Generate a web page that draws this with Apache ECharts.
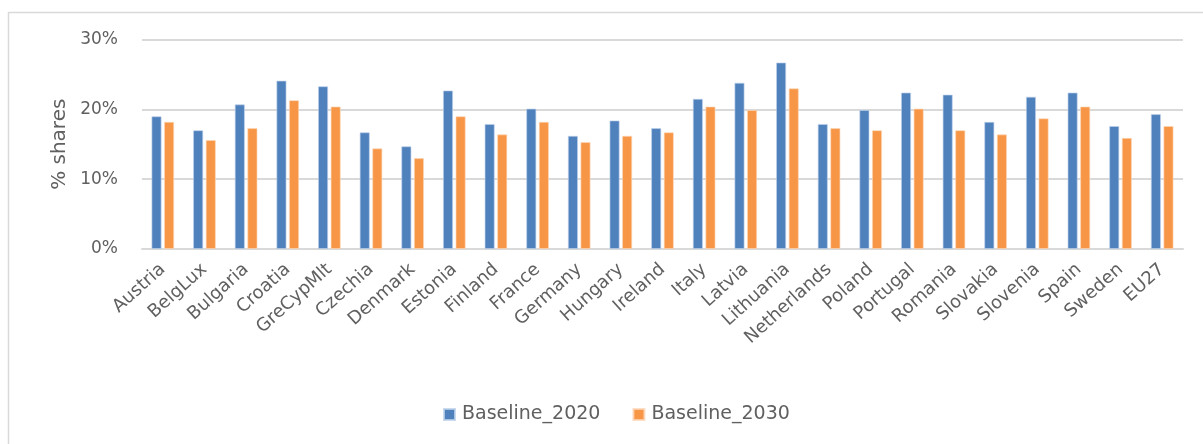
<!DOCTYPE html>
<html>
<head>
<meta charset="utf-8">
<script src="https://cdn.jsdelivr.net/npm/echarts@6/dist/echarts.min.js"></script>
<style>
html,body{margin:0;padding:0;background:#fff;}
#chart{width:1203px;height:444px;}
</style>
</head>
<body>
<div id="chart"></div>
<script>
const categories = ["Austria","BelgLux","Bulgaria","Croatia","GreCypMlt","Czechia","Denmark","Estonia","Finland","France","Germany","Hungary","Ireland","Italy","Latvia","Lithuania","Netherlands","Poland","Portugal","Romania","Slovakia","Slovenia","Spain","Sweden","EU27"];
const baseline2020 = [19.0,17.0,20.7,24.1,23.3,16.7,14.7,22.7,17.9,20.1,16.2,18.4,17.3,21.5,23.8,26.7,17.9,19.9,22.4,22.1,18.2,21.8,22.4,17.6,19.3];
const baseline2030 = [18.2,15.6,17.3,21.3,20.4,14.4,13.0,19.0,16.4,18.2,15.3,16.2,16.7,20.4,19.9,23.0,17.3,17.0,20.1,17.0,16.4,18.7,20.4,15.9,17.6];
const seriesNames = ["Baseline_2020","Baseline_2030"];
const yTicks = {min:0, max:30, interval:10};

const FONT = "DejaVu Sans";
const TXT = "#606060";
const chart = echarts.init(document.getElementById('chart'));
chart.setOption({
  animation:false,
  graphic:[{type:'rect', shape:{x:8.5,y:12.5,width:1300,height:500}, style:{fill:'none', stroke:'#d9d9d9', lineWidth:1.5}, silent:true}],
  grid:{left:142, right:20, top:39.5, bottom:195, containLabel:false},
  legend:{
    data:seriesNames, left:438, top:400, itemWidth:11, itemHeight:11, itemGap:32,
    icon:'rect',
    textStyle:{fontFamily:FONT, fontSize:19, color:TXT, padding:[0,0,0,2]}
  },
  xAxis:{
    type:'category', data:categories,
    axisLine:{lineStyle:{color:'#d9d9d9', width:2}},
    axisTick:{show:false},
    axisLabel:{interval:0, rotate:42, margin:18, fontFamily:FONT, fontSize:18, color:TXT}
  },
  yAxis:{
    type:'value', min:yTicks.min, max:yTicks.max, interval:yTicks.interval,
    name:'% shares', nameLocation:'middle', nameGap:63, nameRotate:90,
    nameTextStyle:{fontFamily:FONT, fontSize:20, color:TXT},
    axisLine:{show:false}, axisTick:{show:false},
    splitLine:{lineStyle:{color:'#d9d9d9', width:2}},
    axisLabel:{formatter:'{value}%', margin:24, fontFamily:FONT, fontSize:17, color:TXT}
  },
  series:[
    {name:seriesNames[0], type:'bar', data:baseline2020, barWidth:10, barGap:'26%',
     itemStyle:{color:'#4f81bd', borderColor:'rgba(190,210,235,0.8)', borderWidth:0.8}},
    {name:seriesNames[1], type:'bar', data:baseline2030, barWidth:10,
     itemStyle:{color:'#f79646', borderColor:'rgba(252,215,185,0.8)', borderWidth:0.8}}
  ]
});
</script>
</body>
</html>
